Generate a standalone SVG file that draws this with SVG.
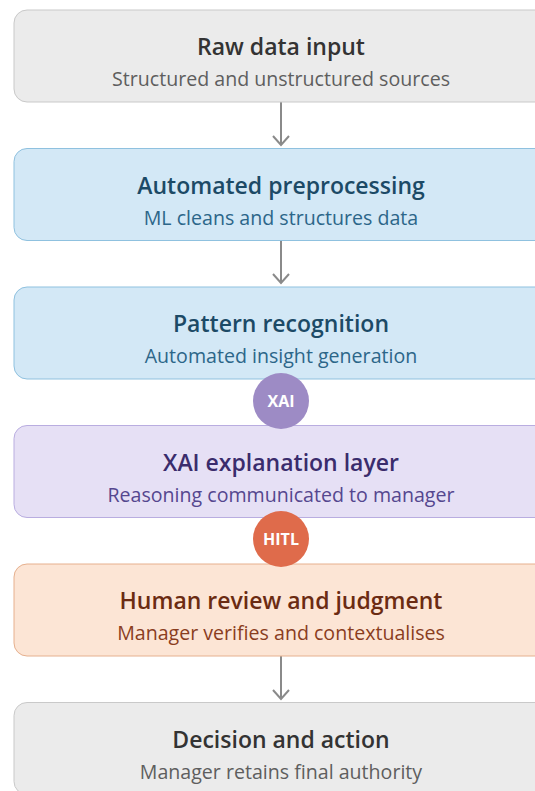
<svg xmlns="http://www.w3.org/2000/svg" width="535" height="791" viewBox="0 0 535 791">
<defs>
<style>
.box{stroke-width:1}
.t{font-family:"Open Sans","Noto Sans",sans-serif;font-size:23px;font-weight:600;text-anchor:middle}
.s{font-family:"Open Sans","Noto Sans",sans-serif;font-size:19.6px;font-weight:400;text-anchor:middle}
.gray .box{fill:#ebebeb;stroke:#c9c9c9}
.gray .t{fill:#333333}.gray .s{fill:#5e5e5e}
.blue .box{fill:#d3e8f6;stroke:#8fc1df}
.blue .t{fill:#1c4a66}.blue .s{fill:#2c6689}
.purple .box{fill:#e6e0f5;stroke:#b9ade0}
.purple .t{fill:#3a2c6c}.purple .s{fill:#55478f}
.orange .box{fill:#fce5d5;stroke:#e6b08e}
.orange .t{fill:#6b2b12}.orange .s{fill:#8a3d1e}
.conn{stroke:#8a8a8a;stroke-width:2;fill:none}
.badge text{font-family:"Open Sans","Noto Sans",sans-serif;font-size:16px;font-weight:700;fill:#ffffff;text-anchor:middle}
</style>
</defs>
<g id="connectors">
<path class="conn" d="M281 102 V144"/>
<path class="conn" d="M273 136 L281 145 L289 136"/>
<path class="conn" d="M281 240 V282"/>
<path class="conn" d="M273 274 L281 283 L289 274"/>
<path class="conn" d="M281 656 V698"/>
<path class="conn" d="M273 690 L281 699 L289 690"/>
</g>
<g id="raw" class="gray">
<rect class="box" x="14" y="10" width="540" height="92" rx="13"/>
<text class="t" x="281" y="55">Raw data input</text>
<text class="s" x="281" y="86">Structured and unstructured sources</text>
</g>
<g id="preprocessing" class="blue">
<rect class="box" x="14" y="148.5" width="540" height="92" rx="13"/>
<text class="t" x="281" y="193.5">Automated preprocessing</text>
<text class="s" x="281" y="224.5">ML cleans and structures data</text>
</g>
<g id="pattern" class="blue">
<rect class="box" x="14" y="287" width="540" height="92" rx="13"/>
<text class="t" x="281" y="332">Pattern recognition</text>
<text class="s" x="281" y="363">Automated insight generation</text>
</g>
<g id="xai-layer" class="purple">
<rect class="box" x="14" y="425.5" width="540" height="92" rx="13"/>
<text class="t" x="281" y="470.5">XAI explanation layer</text>
<text class="s" x="281" y="501.5">Reasoning communicated to manager</text>
</g>
<g id="human" class="orange">
<rect class="box" x="14" y="564" width="540" height="92" rx="13"/>
<text class="t" x="281" y="609">Human review and judgment</text>
<text class="s" x="281" y="640">Manager verifies and contextualises</text>
</g>
<g id="decision" class="gray">
<rect class="box" x="14" y="702.5" width="540" height="92" rx="13"/>
<text class="t" x="281" y="747.5">Decision and action</text>
<text class="s" x="281" y="778.5">Manager retains final authority</text>
</g>
<g id="xai-badge" class="badge">
<circle cx="281" cy="401" r="28" fill="#9d8bc5"/>
<text x="281" y="407">XAI</text>
</g>
<g id="hitl-badge" class="badge">
<circle cx="281" cy="539" r="28" fill="#df6b4b"/>
<text x="281" y="545">HITL</text>
</g>
</svg>
